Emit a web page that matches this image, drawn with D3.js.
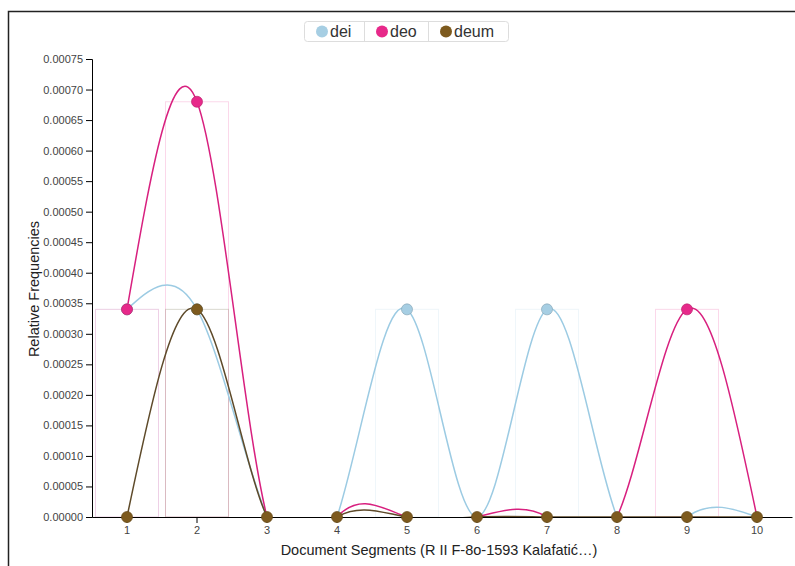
<!DOCTYPE html>
<html>
<head>
<meta charset="utf-8">
<script src="https://cdn.jsdelivr.net/npm/d3@7"></script>
<style>
  body { margin: 0; background: #fff; font-family: "Liberation Sans", Arial, sans-serif; }
  .tick text { fill: #444; font-size: 11px; }
  .axis-label { font-size: 14.5px; fill: #222; }
  .legend text { font-family: "Liberation Sans", Arial, sans-serif; font-size: 16px; fill: #333; }
</style>
</head>
<body>
<svg width="795" height="566"></svg>
<script>
const segments = ["1", "2", "3", "4", "5", "6", "7", "8", "9", "10"];
const seriesNames = ["dei", "deo", "deum"];
const seriesColors = ["#a6cee3", "#e7298a", "#7d5a1e"];
const lineColors = ["#9ccbe3", "#d8207f", "#5e4a2a"];
const deiValues  = [0.00034, 0.00034, 0, 0, 0.00034, 0, 0.00034, 0, 0, 0];
const deoValues  = [0.00034, 0.00068, 0, 0, 0, 0, 0, 0, 0.00034, 0];
const deumValues = [0, 0.00034, 0, 0, 0, 0, 0, 0, 0, 0];
const yTicks = d3.range(0, 0.000751, 0.00005);

const svg = d3.select("svg"),
    margin = {top: 59, right: 3, bottom: 49, left: 92},
    width = +svg.attr("width") - margin.left - margin.right,
    height = +svg.attr("height") - margin.top - margin.bottom;

// outer frame
svg.append("rect")
    .attr("x", 8.5).attr("y", 11.5)
    .attr("width", 800).attr("height", 600)
    .attr("fill", "none").attr("stroke", "#222").attr("stroke-width", 1.5);

const series = seriesNames.map((name, i) => ({
  name: name,
  color: seriesColors[i],
  line: lineColors[i],
  values: [deiValues, deoValues, deumValues][i]
}));

const x = d3.scaleBand().domain(segments).range([0, width])
    .paddingInner(0.1).paddingOuter(0.05);
const y = d3.scaleLinear().domain([0, 0.00075]).range([height, 0]);

const g = svg.append("g").attr("transform", `translate(${margin.left},${margin.top})`);

g.append("clipPath").attr("id", "clip")
  .append("rect").attr("x", 0).attr("y", -20).attr("width", width).attr("height", height + 20);

// faint bars
series.forEach(s => {
  g.append("g").selectAll("rect")
    .data(s.values.map((v, i) => ({v: v, seg: segments[i]})).filter(d => d.v > 0))
    .enter().append("rect")
      .attr("x", d => x(d.seg))
      .attr("y", d => y(d.v))
      .attr("width", x.bandwidth())
      .attr("height", d => height - y(d.v))
      .attr("fill", "none")
      .attr("stroke", s.color)
      .attr("stroke-opacity", 0.18);
});

const line = d3.line()
    .x((d, i) => x(segments[i]) + x.bandwidth() / 2)
    .y(d => y(d))
    .curve(d3.curveNatural);

g.append("g").attr("clip-path", "url(#clip)")
  .selectAll("path")
  .data(series)
  .enter().append("path")
    .attr("d", d => line(d.values))
    .attr("fill", "none")
    .attr("stroke", d => d.line)
    .attr("stroke-width", 1.5);

g.append("g")
    .attr("transform", `translate(0,${height})`)
    .call(d3.axisBottom(x).tickSizeOuter(0));

g.append("g")
    .call(d3.axisLeft(y).tickValues(yTicks).tickFormat(d3.format(".5f")));

// points on top
series.forEach(s => {
  g.append("g").selectAll("circle")
    .data(s.values)
    .enter().append("circle")
      .attr("cx", (d, i) => x(segments[i]) + x.bandwidth() / 2)
      .attr("cy", d => y(d))
      .attr("r", 5.5)
      .attr("fill", s.color)
      .attr("stroke", d3.color(s.color).darker(0.6))
      .attr("stroke-width", 0.7)
      .style("display", d => (s.name === "deum" || d > 0) ? null : "none");
});

svg.append("text")
    .attr("class", "axis-label")
    .attr("x", margin.left + width / 2 - 3)
    .attr("y", 555)
    .attr("text-anchor", "middle")
    .text("Document Segments (R II F-8o-1593 Kalafatić…)");

svg.append("text")
    .attr("class", "axis-label")
    .attr("transform", "translate(39,289) rotate(-90)")
    .attr("text-anchor", "middle")
    .text("Relative Frequencies");

// legend
const legendX = [304, 364, 428, 508];
const legend = svg.append("g").attr("class", "legend");
legend.append("rect")
    .attr("x", 304.5).attr("y", 21.5).attr("width", 204).attr("height", 20)
    .attr("rx", 3).attr("fill", "#fff").attr("stroke", "#ddd");
series.forEach((s, i) => {
  if (i > 0) legend.append("line")
      .attr("x1", legendX[i] + 0.5).attr("x2", legendX[i] + 0.5)
      .attr("y1", 22).attr("y2", 41).attr("stroke", "#ddd");
  legend.append("circle")
      .attr("cx", legendX[i] + 18).attr("cy", 31.5).attr("r", 6)
      .attr("fill", s.color);
  legend.append("text")
      .attr("x", legendX[i] + 26).attr("y", 37)
      .text(s.name);
});
</script>
</body>
</html>
